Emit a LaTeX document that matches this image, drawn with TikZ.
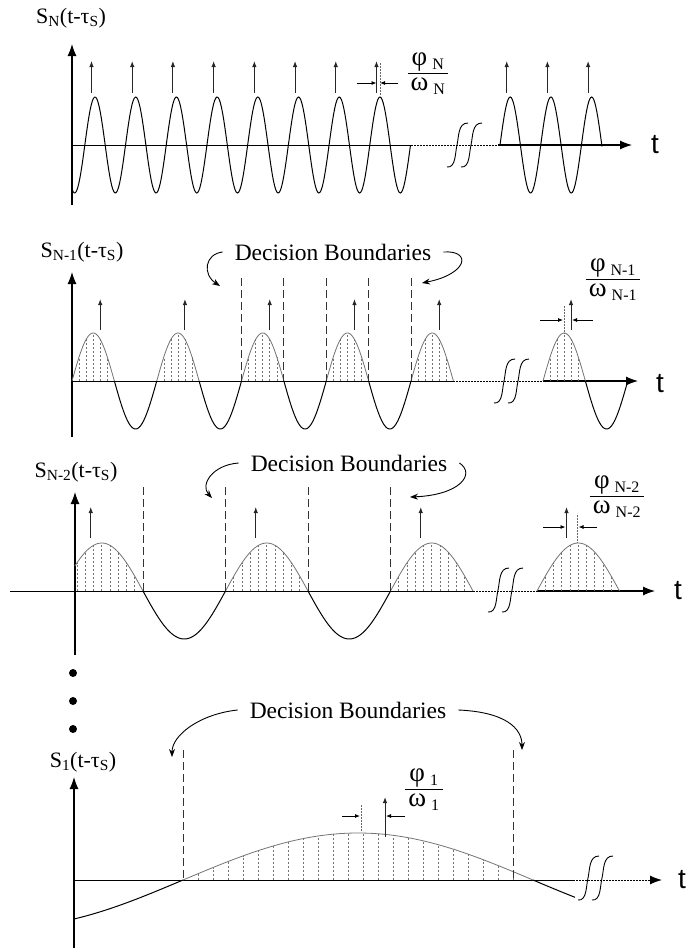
\documentclass[tikz,border=0pt]{standalone}
\usepackage{fontspec}
\setmainfont{Liberation Serif}
\newfontfamily\axisfont{Liberation Sans}
\usepackage{tikz}
\usetikzlibrary{arrows.meta,calc}
\newcommand\fracsub[1]{\textsubscript{\fontsize{16}{16}\selectfont #1}}
\tikzset{
  wave/axis/.style={line width=1.1pt, -{Latex[length=12pt,width=9pt]}},
  wave/gap/.style={line width=1pt, dash pattern=on 1.5pt off 1.5pt},
  wave/curve/.style={line width=1pt},
  wave/lobe/.style={line width=0.8pt, black!55},
  wave/hatch/.style={line width=0.6pt, black!55, dash pattern=on 2pt off 2pt},
  wave/bound/.style={line width=1pt, black!80, dash pattern=on 8pt off 4pt},
  wave/mark/.style={line width=1pt, black!85, -{Latex[length=6pt,width=4.5pt]}},
  wave/dim/.style={line width=0.8pt, -{Latex[length=5pt,width=4pt]}},
  wave/tick/.style={line width=0.8pt, black!60, dash pattern=on 2pt off 1pt},
  wave/label/.style={font=\fontsize{22}{25}\selectfont, inner sep=0pt},
  wave/t/.style={font=\axisfont\fontsize{28}{30}\selectfont, inner sep=0pt},
  wave/note/.style={font=\fontsize{23.5}{26}\selectfont, inner xsep=12pt, inner ysep=0pt},
  wave/curly/.style={line width=0.9pt, -{Stealth[length=8pt,width=6pt]}},
  wave/frac/.style={font=\fontsize{27}{25}\selectfont, inner sep=0pt},
  wave/dot/.style={fill=black},
  axisbreak/.pic={
    \draw[line width=0.9pt] (-17,22) .. controls (-8,23) and (-9,8) .. (-7,0) .. controls (-5,-9) and (-6,-22) .. (4,-22);
    \draw[line width=0.9pt] (-3,22) .. controls (6,23) and (5,8) .. (7,0) .. controls (9,-9) and (8,-22) .. (18,-22);
  }
}

\begin{document}
\begin{tikzpicture}[x=1pt, y=-1pt,
  declare function={
    sN(\t)=145-48*cos((\t-95)/40.71*360);
    sNi(\t)=381-48*sin((\t-72)/84.75*360);
    sNii(\t)=591-48*sin((\t-60.5)/165*360);
    sI(\t)=880-47*sin((\t-183)/350*180);
  }]
  \useasboundingbox (0,0) rectangle (688,948);

  % S_N
  \node[wave/label] (labN) at (71,18) {S\textsubscript{N}(t-τ\textsubscript{S})};
  \draw[wave/axis] (72,205) -- (72,44);
  \draw[wave/curve] (72,145) -- (411,145);
  \draw[wave/gap] (411,145) -- (498,145);
  \draw[wave/axis] (498,145) -- (632,145);
  \node[wave/t] (tN) at (655,145) {t};
  \draw[wave/curve] plot[domain=72:410.5, samples=300] (\x,{sN(\x)});
  \draw[wave/curve] plot[domain=500:602, samples=100] (\x,{sN(\x-415.2)});
  \foreach \k in {0,...,7}
    \draw[wave/mark] ({95+40.71*\k-3.5},93) -- ({95+40.71*\k-3.5},61);
  \foreach \p in {510.2,550.9,591.6}
    \draw[wave/mark] (\p-3.5,93) -- (\p-3.5,61);
  \draw[wave/tick] (380,63) -- (380,96);
  \draw[wave/dim] (357,83) -- (376.5,83);
  \draw[wave/dim] (398,83) -- (380,83);
  \node[wave/frac] (fracN) at (428,73) {\begin{tabular}{@{\hspace{3pt}}c@{\hspace{3pt}}}φ\hspace{5pt}\fracsub{N}\\\hline ω\hspace{5pt}\fracsub{N}\end{tabular}};
  \pic at (464,145) {axisbreak};

  % S_N-1
  \node[wave/label] (labNi) at (82,252) {S\textsubscript{N-1}(t-τ\textsubscript{S})};
  \draw[wave/axis] (72,437) -- (72,272);
  \draw[wave/curve] (72,381) -- (453.4,381);
  \draw[wave/gap] (453.4,381) -- (543,381);
  \draw[wave/axis] (543,381) -- (638,381);
  \node[wave/t] (tNi) at (660,384) {t};
  \foreach \k in {0,...,4}{
    \pgfmathsetmacro\a{72+84.75*\k}
    \pgfmathsetmacro\b{\a+42.375}
    \draw[wave/lobe] plot[domain=\a:\b, samples=40] (\x,{sNi(\x)});
    \foreach \j in {1,...,5}
      \draw[wave/hatch] ({\a+7.06*\j},381) -- ({\a+7.06*\j},{sNi(\a+7.06*\j)});
    \draw[wave/mark] (\a+28.2,330) -- (\a+28.2,299);
  }
  \foreach \k in {0,...,3}{
    \pgfmathsetmacro\a{114.375+84.75*\k}
    \pgfmathsetmacro\b{\a+42.375}
    \draw[wave/curve] plot[domain=\a:\b, samples=40] (\x,{sNi(\x)});
  }
  \draw[wave/lobe] plot[domain=543:585.4, samples=40] (\x,{sNi(\x-471)});
  \draw[wave/curve] plot[domain=585.4:627.75, samples=40] (\x,{sNi(\x-471)});
  \foreach \j in {1,...,5}
    \draw[wave/hatch] ({543+7.06*\j},381) -- ({543+7.06*\j},{sNi(72+7.06*\j)});
  \draw[wave/mark] (571,330) -- (571,299);
  \foreach \b in {241.5,283.9,326.25,368.6,411}
    \draw[wave/bound] (\b,278) -- (\b,381);
  \draw[wave/tick] (564,306) -- (564,334);
  \draw[wave/dim] (540,320) -- (563,320);
  \draw[wave/dim] (593,320) -- (572,320);
  \node[wave/frac] (fracNi) at (613,279) {\begin{tabular}{@{\hspace{3pt}}c@{\hspace{3pt}}}φ\hspace{5pt}\fracsub{N-1}\\\hline ω\hspace{5pt}\fracsub{N-1}\end{tabular}};
  \pic at (511,381) {axisbreak};
  \node[wave/note] (dbNi) at (333,252) {Decision Boundaries};
  \coordinate (dbNia) at (220,286);
  \coordinate (dbNib) at (422,283);
  \draw[wave/curly] (dbNi.west) .. controls (205,254) and (202,274) .. (dbNia);
  \draw[wave/curly] (dbNi.east) .. controls (472,250) and (468,274) .. (dbNib);

  % S_N-2
  \node[wave/label] (labNii) at (76,472) {S\textsubscript{N-2}(t-τ\textsubscript{S})};
  \draw[wave/axis] (75,655) -- (75,492);
  \draw[wave/curve] (10,591) -- (473,591);
  \draw[wave/gap] (473,591) -- (537,591);
  \draw[wave/axis] (537,591) -- (655,591);
  \node[wave/t] (tNii) at (678,591) {t};
  \draw[wave/lobe] plot[domain=75:143, samples=40] (\x,{sNii(\x)});
  \foreach \j in {2,...,9}
    \draw[wave/hatch] ({60.5+8.25*\j},591) -- ({60.5+8.25*\j},{sNii(60.5+8.25*\j)});
  \foreach \k in {1,2}{
    \pgfmathsetmacro\a{60.5+165*\k}
    \pgfmathsetmacro\b{\a+82.5}
    \draw[wave/lobe] plot[domain=\a:\b, samples=50] (\x,{sNii(\x)});
    \foreach \j in {1,...,9}
      \draw[wave/hatch] ({\a+8.25*\j},591) -- ({\a+8.25*\j},{sNii(\a+8.25*\j)});
  }
  \foreach \k in {0,1}{
    \pgfmathsetmacro\a{143+165*\k}
    \pgfmathsetmacro\b{\a+82.5}
    \draw[wave/curve] plot[domain=\a:\b, samples=50] (\x,{sNii(\x)});
  }
  \draw[wave/lobe] plot[domain=537:619.5, samples=50] (\x,{sNii(\x-476.5)});
  \foreach \j in {1,...,9}
    \draw[wave/hatch] ({537+8.25*\j},591) -- ({537+8.25*\j},{sNii(60.5+8.25*\j)});
  \foreach \p in {90.75,255.75,420.75,566.5}
    \draw[wave/mark] (\p,538) -- (\p,507);
  \foreach \b in {143,225.5,308,390.5}
    \draw[wave/bound] (\b,487) -- (\b,591);
  \draw[wave/tick] (577.75,515) -- (577.75,543);
  \draw[wave/dim] (543,527) -- (565.5,527);
  \draw[wave/dim] (597,527) -- (578.5,527);
  \node[wave/frac] (fracNii) at (617,496) {\begin{tabular}{@{\hspace{3pt}}c@{\hspace{3pt}}}φ\hspace{5pt}\fracsub{N-2}\\\hline ω\hspace{5pt}\fracsub{N-2}\end{tabular}};
  \pic at (505,590) {axisbreak};
  \node[wave/note] (dbNii) at (349,463) {Decision Boundaries};
  \coordinate (dbNiia) at (212,498);
  \coordinate (dbNiib) at (410,497);
  \draw[wave/curly] (dbNii.west) .. controls (212,465) and (200,485) .. (dbNiia);
  \draw[wave/curly] (dbNii.east) .. controls (476,474) and (460,495) .. (dbNiib);

  % dots
  \foreach \d in {673,701,729}
    \fill[wave/dot] (73,\d) circle[radius=4];

  % S_1
  \node[wave/label] (labI) at (83,762) {S\textsubscript{1}(t-τ\textsubscript{S})};
  \draw[wave/axis] (74,948) -- (74,777);
  \draw[wave/curve] (74,880) -- (573,880);
  \draw[wave/gap] (573,880) -- (650,880);
  \draw[wave/axis] (650,880) -- (662,880);
  \node[wave/t] (tI) at (682,880) {t};
  \draw[wave/curve] plot[domain=74:183, samples=50] (\x,{sI(\x)});
  \draw[wave/lobe] plot[domain=183:533, samples=120] (\x,{sI(\x)});
  \draw[wave/curve] plot[domain=533:575, samples=30] (\x,{sI(\x)});
  \foreach \h in {198,213,...,513}
    \draw[wave/hatch] (\h,880) -- (\h,{sI(\h)});
  \foreach \b in {183,513}
    \draw[wave/bound] (\b,750) -- (\b,880);
  \draw[wave/tick] (361,805) -- (361,831);
  \draw[wave/mark] (385,837) -- (385,797);
  \draw[wave/dim] (342,816) -- (360,816);
  \draw[wave/dim] (405,816) -- (386,816);
  \node[wave/frac] (fracI) at (424,789) {\begin{tabular}{@{\hspace{3pt}}c@{\hspace{3pt}}}φ\hspace{5pt}\fracsub{1}\\\hline ω\hspace{5pt}\fracsub{1}\end{tabular}};
  \pic at (595,878) {axisbreak};
  \node[wave/note] (dbI) at (348,710) {Decision Boundaries};
  \coordinate (dbIa) at (172,757);
  \coordinate (dbIb) at (522,750);
  \draw[wave/curly] (dbI.west) .. controls (200,714) and (172,735) .. (dbIa);
  \draw[wave/curly] (dbI.east) .. controls (505,712) and (522,728) .. (dbIb);
\end{tikzpicture}
\end{document}
